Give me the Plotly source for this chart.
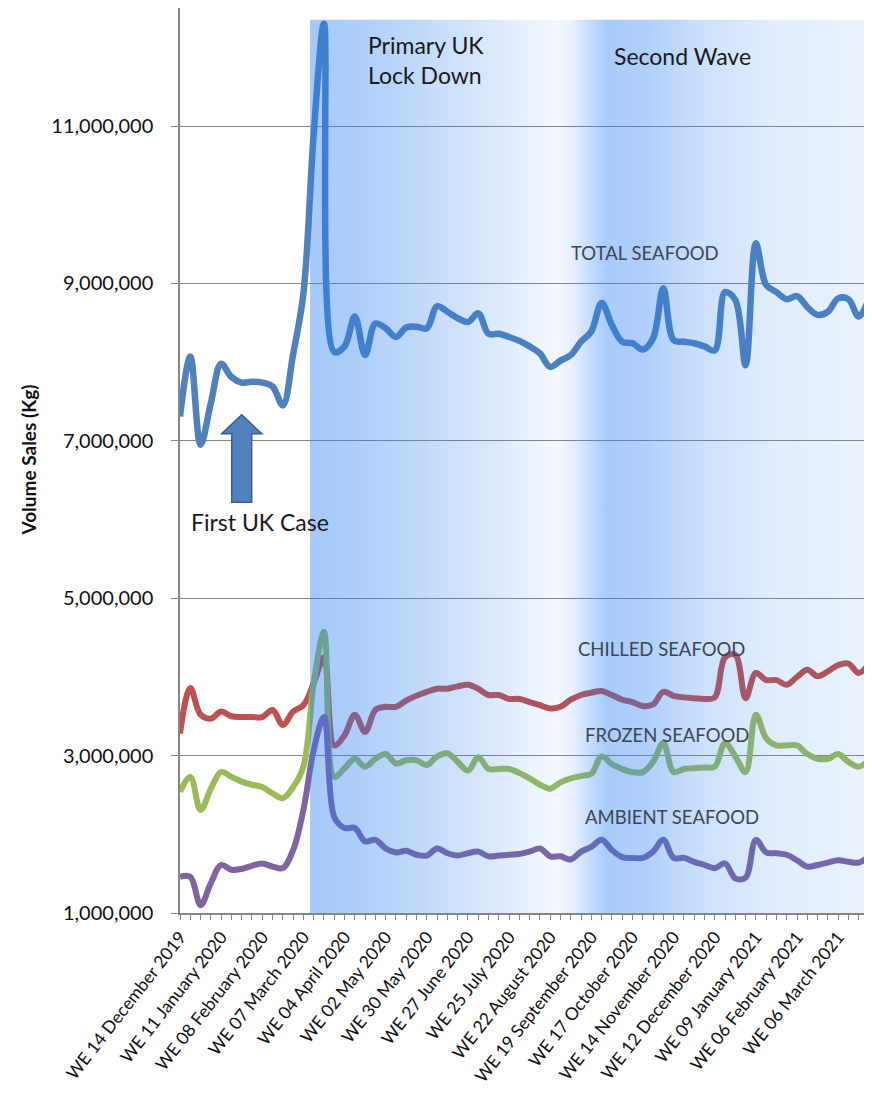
import plotly.graph_objects as go
import pandas as pd

# ---------------- data (millions of kg, weekly) ----------------
weeks = pd.date_range("2019-12-14", periods=68, freq="7D")
week_labels = ["WE " + d.strftime("%d %B %Y") for d in weeks]

total = [7.31, 8.07, 6.95, 7.48, 7.98, 7.81, 7.74, 7.75, 7.74, 7.69, 7.45, 8.10,
         8.87, 10.9, 12.3, 8.13, 8.20, 8.58, 8.09, 8.49, 8.43, 8.32, 8.44, 8.45,
         8.43, 8.71, 8.64, 8.56, 8.51, 8.62, 8.36, 8.36, 8.32, 8.27, 8.20, 8.11,
         7.94, 8.02, 8.09, 8.26, 8.39, 8.75, 8.47, 8.26, 8.24, 8.16, 8.30, 8.94,
         8.28, 8.26, 8.24, 8.20, 8.15, 8.89, 8.79, 7.96, 9.51, 8.98, 8.89, 8.80,
         8.84, 8.70, 8.60, 8.64, 8.81, 8.80, 8.58, 8.81]
chilled = [3.28, 3.86, 3.52, 3.47, 3.56, 3.50, 3.49, 3.49, 3.49, 3.58, 3.39, 3.56,
           3.64, 3.92, 4.25, 3.13, 3.26, 3.52, 3.30, 3.58, 3.62, 3.62, 3.70, 3.76,
           3.81, 3.85, 3.85, 3.88, 3.90, 3.85, 3.77, 3.77, 3.72, 3.72, 3.68, 3.64,
           3.60, 3.62, 3.71, 3.77, 3.80, 3.82, 3.77, 3.71, 3.68, 3.63, 3.65, 3.81,
           3.76, 3.74, 3.73, 3.72, 3.74, 4.25, 4.28, 3.73, 4.05, 3.96, 3.96, 3.90,
           4.00, 4.09, 4.01, 4.07, 4.15, 4.17, 4.05, 4.17]
frozen = [2.54, 2.73, 2.31, 2.58, 2.79, 2.73, 2.67, 2.63, 2.60, 2.52, 2.46, 2.60,
          2.86, 3.92, 4.57, 2.73, 2.84, 2.96, 2.86, 2.96, 3.02, 2.90, 2.94, 2.94,
          2.88, 2.99, 3.03, 2.92, 2.81, 2.98, 2.83, 2.83, 2.83, 2.78, 2.71, 2.63,
          2.58, 2.66, 2.71, 2.74, 2.77, 2.99, 2.89, 2.83, 2.79, 2.79, 2.92, 3.16,
          2.79, 2.83, 2.84, 2.85, 2.86, 3.16, 2.99, 2.79, 3.52, 3.22, 3.13, 3.13,
          3.13, 3.02, 2.96, 2.96, 3.02, 2.92, 2.86, 2.94]
ambient = [1.46, 1.46, 1.10, 1.38, 1.61, 1.55, 1.56, 1.60, 1.63, 1.59, 1.57, 1.80,
           2.31, 3.07, 3.49, 2.22, 2.08, 2.08, 1.91, 1.93, 1.82, 1.77, 1.79, 1.74,
           1.73, 1.82, 1.76, 1.73, 1.76, 1.78, 1.72, 1.73, 1.74, 1.75, 1.78, 1.82,
           1.72, 1.72, 1.68, 1.78, 1.84, 1.93, 1.80, 1.71, 1.70, 1.70, 1.78, 1.93,
           1.70, 1.70, 1.65, 1.61, 1.57, 1.63, 1.44, 1.45, 1.93, 1.77, 1.76, 1.74,
           1.67, 1.59, 1.61, 1.64, 1.67, 1.65, 1.64, 1.72]

tick_labels = ["WE 14 December 2019", "WE 11 January 2020", "WE 08 February 2020",
               "WE 07 March 2020", "WE 04 April 2020", "WE 02 May 2020", "WE 30 May 2020",
               "WE 27 June 2020", "WE 25 July 2020", "WE 22 August 2020",
               "WE 19 September 2020", "WE 17 October 2020", "WE 14 November 2020",
               "WE 12 December 2020", "WE 09 January 2021", "WE 06 February 2021",
               "WE 06 March 2021"]
y_ticks = [1e6, 3e6, 5e6, 7e6, 9e6, 11e6]

M = 1e6
x = list(range(len(weeks)))
ticktext = [lab if lab in tick_labels else "" for lab in week_labels]

fig = go.Figure()

series = [("TOTAL SEAFOOD", total, "#4F81BD", 6.5),
          ("CHILLED SEAFOOD", chilled, "#C0504D", 6),
          ("FROZEN SEAFOOD", frozen, "#9BBB59", 6),
          ("AMBIENT SEAFOOD", ambient, "#8064A2", 6)]
for name, vals, col, w in series:
    fig.add_trace(go.Scatter(x=x, y=[v * M for v in vals], mode="lines", name=name,
                             line=dict(color=col, width=w, shape="spline", smoothing=1.0),
                             showlegend=False, hoverinfo="skip"))

# lockdown shading (semi-transparent overlay, drawn above the lines)
band_start, band_end, band_top = 12.65, 67, 12.35 * M
def c(a):
    return f"rgba(40,125,240,{a})"
fig.add_trace(go.Scatter(
    x=[band_start, band_end, band_end, band_start, band_start],
    y=[1 * M, 1 * M, band_top, band_top, 1 * M],
    mode="lines", line=dict(width=0), fill="toself",
    fillgradient=dict(type="horizontal", colorscale=[
        [0.0, c(0.42)], [0.10, c(0.37)], [0.18, c(0.30)], [0.34, c(0.16)],
        [0.44, c(0.05)], [0.47, c(0.12)], [0.53, c(0.40)], [0.60, c(0.37)],
        [0.70, c(0.24)], [0.83, c(0.14)], [1.0, c(0.10)]]),
    showlegend=False, hoverinfo="skip"))

FONT = "Lato"
ann = []
ann.append(dict(x=18.1, y=11.84 * M, text="Primary UK<br>Lock Down", xanchor="left",
                yanchor="middle", align="left", font=dict(size=23, color="#1a1a1a")))
ann.append(dict(x=42.0, y=11.89 * M, text="Second Wave", xanchor="left",
                yanchor="middle", font=dict(size=23, color="#1a1a1a")))
ann.append(dict(x=0.88, y=5.97 * M, text="First UK Case", xanchor="left",
                yanchor="middle", font=dict(size=23, color="#1a1a1a")))
lab_col = "#3d4656"
ann.append(dict(x=45.2, y=9.39 * M, text="TOTAL SEAFOOD", font=dict(size=18.5, color=lab_col)))
ann.append(dict(x=46.8, y=4.35 * M, text="CHILLED SEAFOOD", font=dict(size=18.5, color=lab_col)))
ann.append(dict(x=47.4, y=3.26 * M, text="FROZEN SEAFOOD", font=dict(size=18.5, color=lab_col)))
ann.append(dict(x=47.8, y=2.22 * M, text="AMBIENT SEAFOOD", font=dict(size=18.5, color=lab_col)))
for a in ann:
    a.setdefault("xanchor", "center")
    a.setdefault("yanchor", "middle")
    a.update(xref="x", yref="y", showarrow=False)
ann.append(dict(xref="paper", yref="paper", x=-0.2206, y=0.5, text="<b>Volume Sales (Kg)</b>",
                textangle=-90, showarrow=False, xanchor="center", yanchor="middle",
                font=dict(size=19, color="#111")))

# "First UK Case" arrow
ax, hw, sw = 6.0, 1.95, 0.97
y_tip, y_base, y_bot = 7.33 * M, 7.09 * M, 6.22 * M
path = (f"M {ax-sw},{y_bot} L {ax+sw},{y_bot} L {ax+sw},{y_base} L {ax+hw},{y_base} "
        f"L {ax},{y_tip} L {ax-hw},{y_base} L {ax-sw},{y_base} Z")
fig.add_shape(type="path", path=path, xref="x", yref="y", fillcolor="#4F81BD",
              line=dict(color="#3A5F8F", width=1.5), layer="above")

fig.update_layout(
    width=864, height=1088, margin=dict(l=172, r=3, t=0, b=183),
    paper_bgcolor="white", plot_bgcolor="white",
    font=dict(family=FONT, color="#222"),
    annotations=ann,
    xaxis=dict(range=[0, 67], tickmode="array", tickvals=x, ticktext=ticktext,
               tickangle=-52, tickfont=dict(size=17.5, color="#111", family=FONT),
               ticks="outside", ticklen=5, tickcolor="#868686", showgrid=False,
               showline=True, linecolor="#868686", linewidth=1.5, zeroline=False,
               automargin=False, fixedrange=True),
    yaxis=dict(range=[1 * M, 12.5 * M], tickmode="array", tickvals=y_ticks,
               tickformat=",.0f", tickfont=dict(size=20, color="#111", family=FONT),
               ticks="outside", ticklen=7, tickcolor="#868686",
               showgrid=True, gridcolor="#878787", gridwidth=1.2,
               showline=True, linecolor="#868686", linewidth=1.5, zeroline=False,
               ticklabelstandoff=14, automargin=False, fixedrange=True),
)

fig.write_html("out.html")
